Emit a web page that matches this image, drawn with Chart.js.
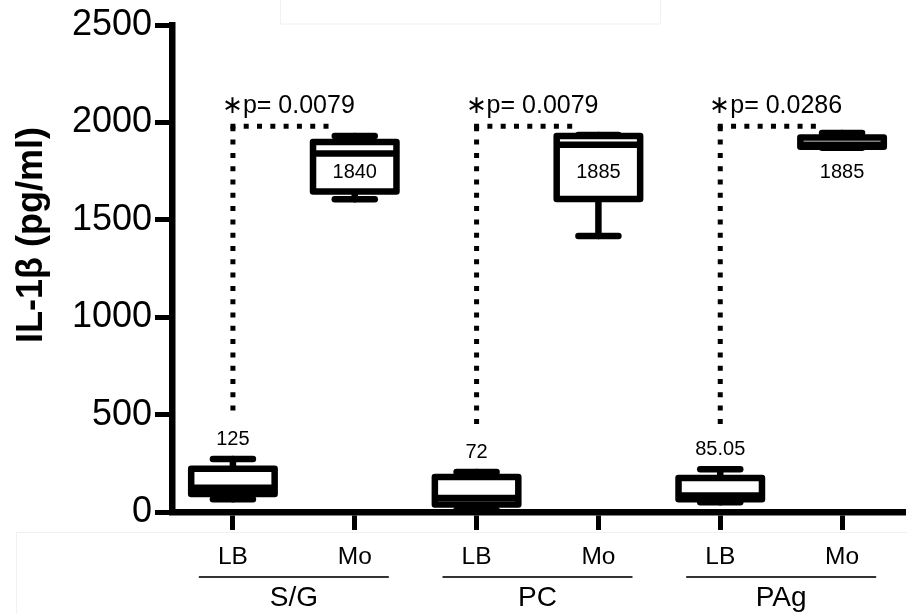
<!DOCTYPE html>
<html>
<head>
<meta charset="utf-8">
<script src="https://cdn.jsdelivr.net/npm/chart.js@4/dist/chart.umd.min.js"></script>
<style>
  html, body { margin: 0; padding: 0; background: #fff; }
</style>
</head>
<body>
<canvas id="il1b" width="907" height="614"></canvas>
<script>
(function() {
  "use strict";

  // categories
  const groups = ['S/G', 'PC', 'PAg'];
  const cells = ['LB', 'Mo', 'LB', 'Mo', 'LB', 'Mo'];

  // box plot values (pg/ml)
  const minVals = [65, 1605, 10, 1417, 50, 1870];
  const q1Vals = [92, 1645, 38, 1607, 65, 1875];
  const medians = [125, 1840, 72, 1885, 85.05, 1885];
  const q3Vals = [222, 1900, 180, 1930, 175, 1922];
  const maxVals = [272, 1930, 205, 1935, 220, 1945];

  // significance LB vs Mo per group
  const pValues = ['0.0079', '0.0079', '0.0286'];
  const bracketTop = 1980;
  const moLabelAt = 1745;

  const yTicks = [0, 500, 1000, 1500, 2000, 2500];

  const font = '"Liberation Sans", Arial, sans-serif';

  function line(ctx, x1, y1, x2, y2) {
    ctx.beginPath();
    ctx.moveTo(x1, y1);
    ctx.lineTo(x2, y2);
    ctx.stroke();
  }

  const boxPlot = {
    id: 'boxPlot',
    afterDatasetsDraw: function(chart) {
      const ctx = chart.ctx;
      const y = chart.scales.y;
      const bars = chart.getDatasetMeta(0).data;
      ctx.save();
      ctx.strokeStyle = '#000';
      ctx.lineWidth = 6.5;
      ctx.lineJoin = 'round';
      bars.forEach(function(bar, i) {
        const x = bar.x;
        const half = bar.width / 2;
        const yMin = y.getPixelForValue(minVals[i]);
        const yQ1 = y.getPixelForValue(q1Vals[i]);
        const yMed = y.getPixelForValue(medians[i]);
        const yQ3 = y.getPixelForValue(q3Vals[i]);
        const yMax = y.getPixelForValue(maxVals[i]);

        // whiskers + caps
        ctx.lineCap = 'round';
        line(ctx, x, yMax, x, yQ3);
        line(ctx, x, yQ1, x, yMin);
        line(ctx, x - 20, yMax, x + 20, yMax);
        line(ctx, x - 20, yMin, x + 20, yMin);

        // box
        ctx.fillStyle = '#fff';
        ctx.fillRect(x - half, yQ3, half * 2, yQ1 - yQ3);
        ctx.strokeRect(x - half, yQ3, half * 2, yQ1 - yQ3);

        // median
        ctx.lineCap = 'butt';
        line(ctx, x - half, yMed, x + half, yMed);

        // median value text
        ctx.fillStyle = '#000';
        ctx.font = '20px ' + font;
        ctx.textAlign = 'center';
        ctx.textBaseline = 'middle';
        const ty = cells[i] === 'Mo' ? y.getPixelForValue(moLabelAt) : yMax - 20;
        ctx.fillText(String(medians[i]), x, ty);
      });
      ctx.restore();
    }
  };

  const annotations = {
    id: 'annotations',
    beforeDraw: function(chart) {
      // faint panel edges left over in the figure
      const ctx = chart.ctx;
      ctx.save();
      ctx.strokeStyle = '#f1f1f1';
      ctx.lineWidth = 1;
      ctx.strokeRect(280.5, -1, 380, 25);
      ctx.strokeRect(16.5, 532.5, 900, 100);
      ctx.restore();
    },
    afterDraw: function(chart) {
      const ctx = chart.ctx;
      const x = chart.scales.x;
      const y = chart.scales.y;
      ctx.save();

      // y axis title
      ctx.save();
      ctx.translate(42, 235);
      ctx.rotate(-Math.PI / 2);
      ctx.font = 'bold 36px ' + font;
      ctx.fillStyle = '#000';
      ctx.textAlign = 'center';
      ctx.textBaseline = 'alphabetic';
      ctx.fillText('IL-1\u03B2 (pg/ml)', 0, 0);
      ctx.restore();

      groups.forEach(function(g, gi) {
        const xLB = x.getPixelForValue(gi * 2);
        const xMo = x.getPixelForValue(gi * 2 + 1);
        const yTop = y.getPixelForValue(bracketTop);
        const yBottom = y.getPixelForValue(maxVals[gi * 2]) - 42;
        const xEnd = xLB + (xMo - xLB) * 0.8;

        // dotted bracket
        ctx.strokeStyle = '#000';
        ctx.lineWidth = 5;
        ctx.lineCap = 'butt';
        ctx.setLineDash([5, 8.3]);
        line(ctx, xLB, yTop, xLB, yBottom);
        line(ctx, xLB - 2.5, yTop, xEnd, yTop);
        ctx.setLineDash([]);

        // p value
        ctx.fillStyle = '#000';
        ctx.font = '25px ' + font;
        ctx.textAlign = 'left';
        ctx.textBaseline = 'alphabetic';
        ctx.fillText('\u2217p= ' + pValues[gi], xLB - 11, yTop - 13);

        // group underline + label
        const mid = (xLB + xMo) / 2;
        ctx.strokeStyle = '#333';
        ctx.lineWidth = 2;
        line(ctx, mid - 95, 577, mid + 95, 577);
        ctx.font = '28px ' + font;
        ctx.textAlign = 'center';
        ctx.textBaseline = 'middle';
        ctx.fillText(g, mid, 598);
      });
      ctx.restore();
    }
  };

  new Chart(document.getElementById('il1b'), {
    type: 'bar',
    data: {
      labels: cells,
      datasets: [{
        label: 'IL-1b',
        data: q1Vals.map(function(v, i) { return [v, q3Vals[i]]; }),
        backgroundColor: '#fff',
        borderWidth: 0,
        barPercentage: 0.685,
        categoryPercentage: 1
      }]
    },
    options: {
      responsive: false,
      animation: false,
      layout: { padding: { left: 0, right: 4, top: 25, bottom: 0 } },
      plugins: {
        legend: { display: false },
        tooltip: { enabled: false }
      },
      scales: {
        x: {
          afterFit: function(s) { s.height = 102; },
          grid: {
            offset: false,
            drawOnChartArea: false,
            color: '#000',
            lineWidth: 5,
            tickLength: 18
          },
          border: { color: '#000', width: 6.5 },
          ticks: {
            color: '#000',
            padding: 13,
            font: { family: font, size: 24.5 }
          }
        },
        y: {
          min: 0,
          max: 2500,
          afterFit: function(s) { s.width = 172; },
          afterBuildTicks: function(s) {
            s.ticks = yTicks.map(function(v) { return { value: v }; });
          },
          grid: {
            drawOnChartArea: false,
            color: '#000',
            lineWidth: 5,
            tickLength: 17
          },
          border: { color: '#000', width: 6.5 },
          ticks: {
            color: '#000',
            padding: 3,
            font: { family: font, size: 36 },
            callback: function(v) { return String(v); }
          }
        }
      }
    },
    plugins: [boxPlot, annotations]
  });
})();
</script>
</body>
</html>
